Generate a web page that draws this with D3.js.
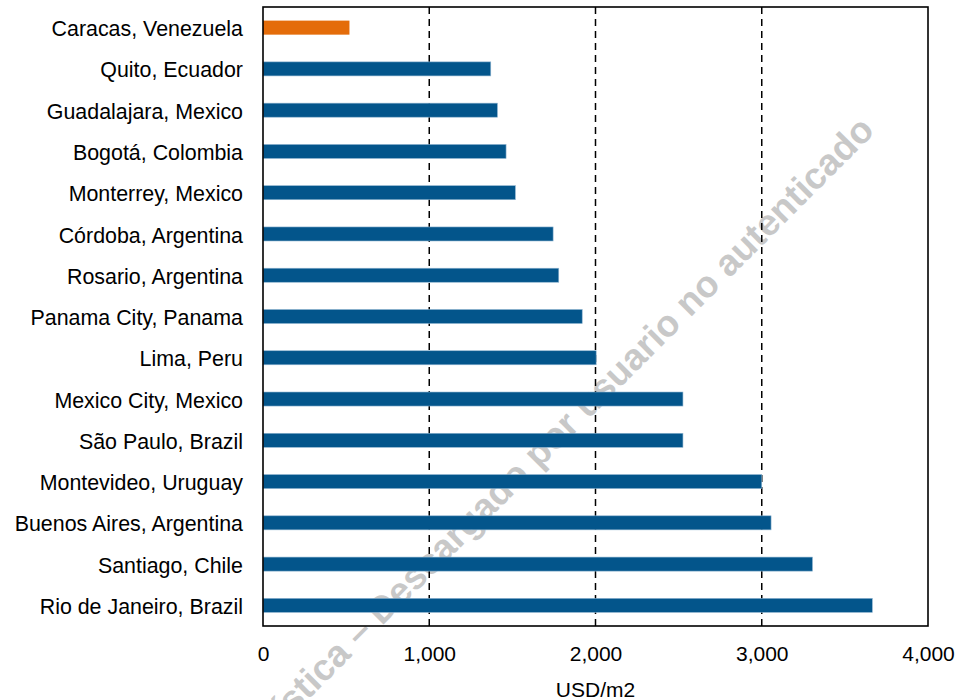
<!DOCTYPE html>
<html>
<head>
<meta charset="utf-8">
<script src="https://cdn.jsdelivr.net/npm/d3@7"></script>
<style>
  body { margin: 0; background: #fff; }
  svg text { font-family: "Liberation Sans", Arial, sans-serif; }
</style>
</head>
<body>
<svg id="chart"></svg>
<script>
const width = 958, height = 700;

// data
const cities = [
  'Caracas, Venezuela', 'Quito, Ecuador', 'Guadalajara, Mexico', 'Bogotá, Colombia',
  'Monterrey, Mexico', 'Córdoba, Argentina', 'Rosario, Argentina', 'Panama City, Panama',
  'Lima, Peru', 'Mexico City, Mexico', 'São Paulo, Brazil', 'Montevideo, Uruguay',
  'Buenos Aires, Argentina', 'Santiago, Chile', 'Rio de Janeiro, Brazil'
];
const values = [520, 1370, 1410, 1462, 1518, 1745, 1779, 1920, 2004, 2526, 2526, 3000, 3056, 3305, 3665];
const highlighted = ['Caracas, Venezuela'];
const xTicks = [0, 1000, 2000, 3000, 4000];
const xTitle = 'USD/m2';
const watermark = 'Estadística – Descargado por usuario no autenticado';

const plot = { left: 263, right: 928, top: 7, bottom: 626 };

const svg = d3.select('#chart')
  .attr('width', width)
  .attr('height', height);

const x = d3.scaleLinear().domain([0, 4000]).range([plot.left, plot.right]);
const y = d3.scaleBand().domain(cities).range([plot.top, plot.bottom])
  .paddingInner(0.66).paddingOuter(0.33);

// watermark sits under the marks
svg.append('text')
  .attr('transform', 'translate(876,132) rotate(-45)')
  .attr('text-anchor', 'end')
  .attr('font-size', 37)
  .attr('font-weight', 'bold')
  .attr('fill', '#c8c8c8')
  .text(watermark);

// dashed gridlines
svg.append('g')
  .selectAll('line')
  .data(xTicks.filter(d => d > 0 && d < 4000))
  .join('line')
  .attr('x1', d => x(d)).attr('x2', d => x(d))
  .attr('y1', plot.top).attr('y2', plot.bottom)
  .attr('stroke', '#000')
  .attr('stroke-width', 1.5)
  .attr('stroke-dasharray', '7,5');

// bars
svg.append('g')
  .selectAll('rect')
  .data(cities)
  .join('rect')
  .attr('x', x(0))
  .attr('y', d => y(d))
  .attr('width', (d, i) => x(values[i]) - x(0))
  .attr('height', y.bandwidth())
  .attr('fill', d => highlighted.includes(d) ? '#e46c0a' : '#03558b')
  .attr('stroke', d => highlighted.includes(d) ? 'none' : '#8fb4d0')
  .attr('stroke-width', 0.6);

// frame
svg.append('rect')
  .attr('x', plot.left).attr('y', plot.top)
  .attr('width', plot.right - plot.left).attr('height', plot.bottom - plot.top)
  .attr('fill', 'none')
  .attr('stroke', '#000')
  .attr('stroke-width', 1.6);

// axes
const xAxis = svg.append('g')
  .attr('transform', `translate(0,${plot.bottom})`)
  .call(d3.axisBottom(x).tickValues(xTicks).tickSize(0).tickPadding(20).tickFormat(d3.format(',')));
xAxis.select('.domain').remove();
xAxis.selectAll('text').attr('font-size', 21).attr('fill', '#000');

const yAxis = svg.append('g')
  .attr('transform', `translate(${plot.left},0)`)
  .call(d3.axisLeft(y).tickSize(0).tickPadding(20));
yAxis.select('.domain').remove();
yAxis.selectAll('text').attr('font-size', 21.4).attr('fill', '#000').attr('dy', '0.4em');

svg.append('text')
  .attr('x', (plot.left + plot.right) / 2)
  .attr('y', 697)
  .attr('text-anchor', 'middle')
  .attr('font-size', 21)
  .attr('fill', '#000')
  .text(xTitle);
</script>
</body>
</html>
